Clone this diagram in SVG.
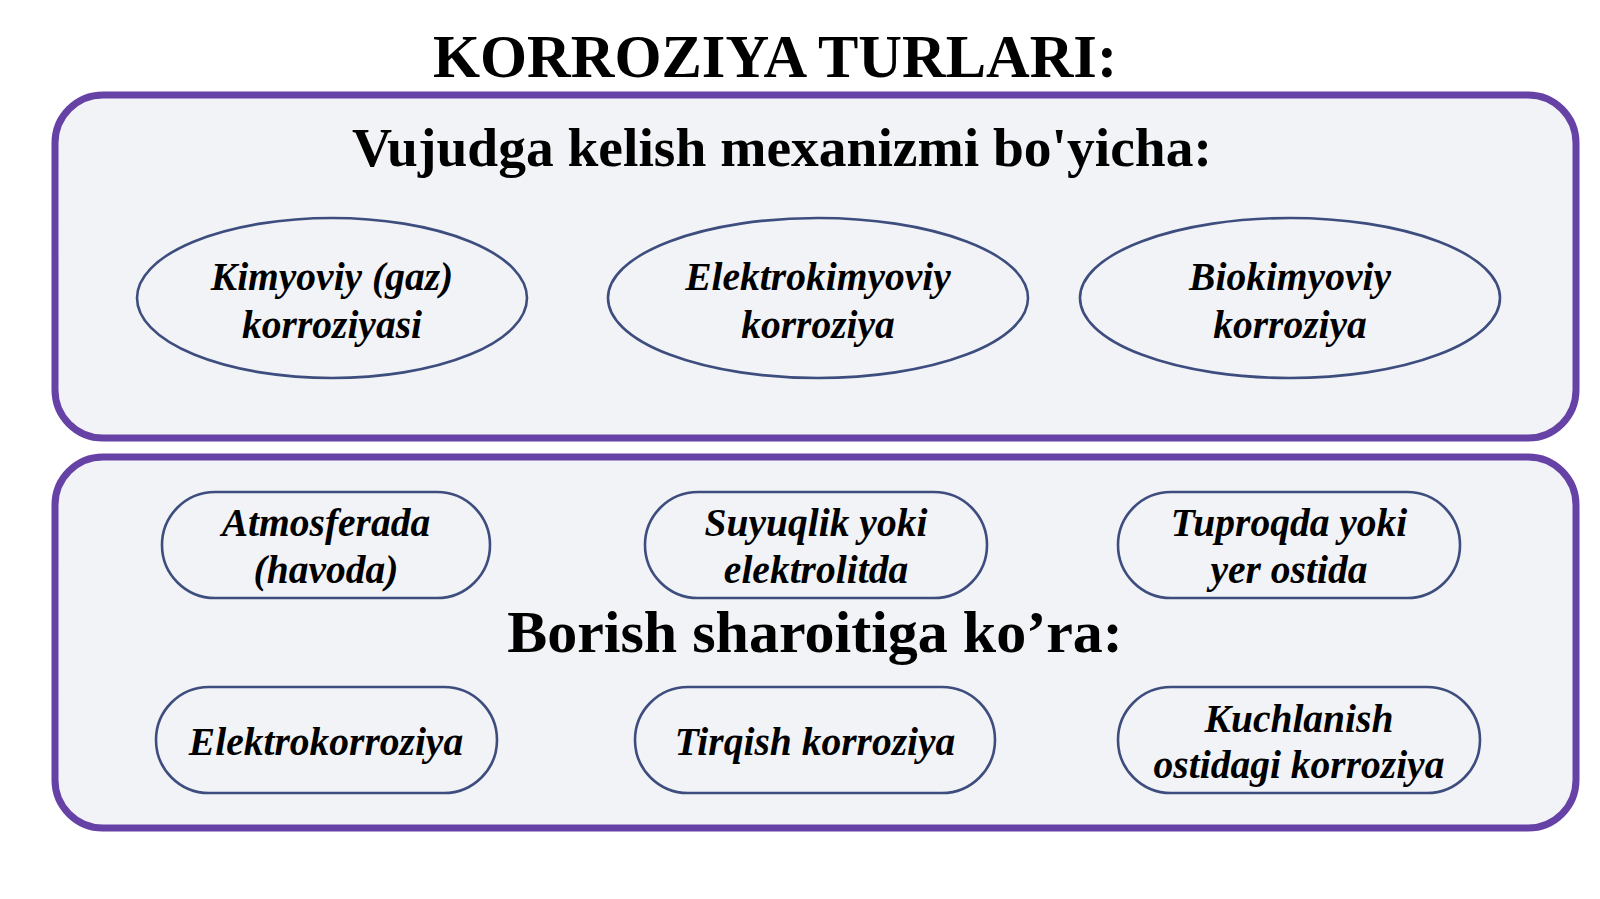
<svg xmlns="http://www.w3.org/2000/svg" width="1600" height="899" viewBox="0 0 1600 899">
<style>
.panel{fill:#f2f3f7;stroke:#6641a6;stroke-width:7}
.node{fill:#f2f3f7;stroke:#3d4d7e;stroke-width:2.6}
.t{font-family:"Liberation Serif","Times New Roman",serif;font-weight:bold;fill:#000;text-anchor:middle}
.n{font-family:"Liberation Serif","Times New Roman",serif;font-weight:bold;font-style:italic;font-size:39.5px;fill:#000;text-anchor:middle}
</style>
<rect width="1600" height="899" fill="#ffffff"/>
<text class="t" x="775" y="77" font-size="60.5">KORROZIYA TURLARI:</text>
<g id="panel-top">
<rect class="panel" x="55" y="95" width="1521" height="343" rx="48" ry="48"/>
<text class="t" x="782" y="166" font-size="55.5">Vujudga kelish mexanizmi bo'yicha:</text>
</g>
<g id="panel-bottom">
<rect class="panel" x="55" y="457" width="1521" height="371" rx="48" ry="48"/>
<text class="t" x="815" y="652" font-size="60">Borish sharoitiga ko’ra:</text>
</g>
<g id="connectors"></g>
<g id="n-kimyoviy">
<ellipse class="node" cx="332" cy="298" rx="195" ry="80"/>
<text class="n" x="332" y="290">Kimyoviy (gaz)</text>
<text class="n" x="332" y="338">korroziyasi</text>
</g>
<g id="n-elektrokimyoviy">
<ellipse class="node" cx="818" cy="298" rx="210" ry="80"/>
<text class="n" x="818" y="290">Elektrokimyoviy</text>
<text class="n" x="818" y="338">korroziya</text>
</g>
<g id="n-biokimyoviy">
<ellipse class="node" cx="1290" cy="298" rx="210" ry="80"/>
<text class="n" x="1290" y="290">Biokimyoviy</text>
<text class="n" x="1290" y="338">korroziya</text>
</g>
<g id="n-atmosferada">
<rect class="node" x="162" y="492" width="328" height="106" rx="53" ry="53"/>
<text class="n" x="326" y="536">Atmosferada</text>
<text class="n" x="326" y="583">(havoda)</text>
</g>
<g id="n-suyuqlik">
<rect class="node" x="645" y="492" width="342" height="106" rx="53" ry="53"/>
<text class="n" x="816" y="536">Suyuqlik yoki</text>
<text class="n" x="816" y="583">elektrolitda</text>
</g>
<g id="n-tuproqda">
<rect class="node" x="1118" y="492" width="342" height="106" rx="53" ry="53"/>
<text class="n" x="1289" y="536">Tuproqda yoki</text>
<text class="n" x="1289" y="583">yer ostida</text>
</g>
<g id="n-elektrokorroziya">
<rect class="node" x="156" y="687" width="341" height="106" rx="53" ry="53"/>
<text class="n" x="326" y="755">Elektrokorroziya</text>
</g>
<g id="n-tirqish">
<rect class="node" x="635" y="687" width="360" height="106" rx="53" ry="53"/>
<text class="n" x="815" y="755">Tirqish korroziya</text>
</g>
<g id="n-kuchlanish">
<rect class="node" x="1118" y="687" width="362" height="106" rx="53" ry="53"/>
<text class="n" x="1299" y="732">Kuchlanish</text>
<text class="n" x="1299" y="778">ostidagi korroziya</text>
</g>
</svg>
